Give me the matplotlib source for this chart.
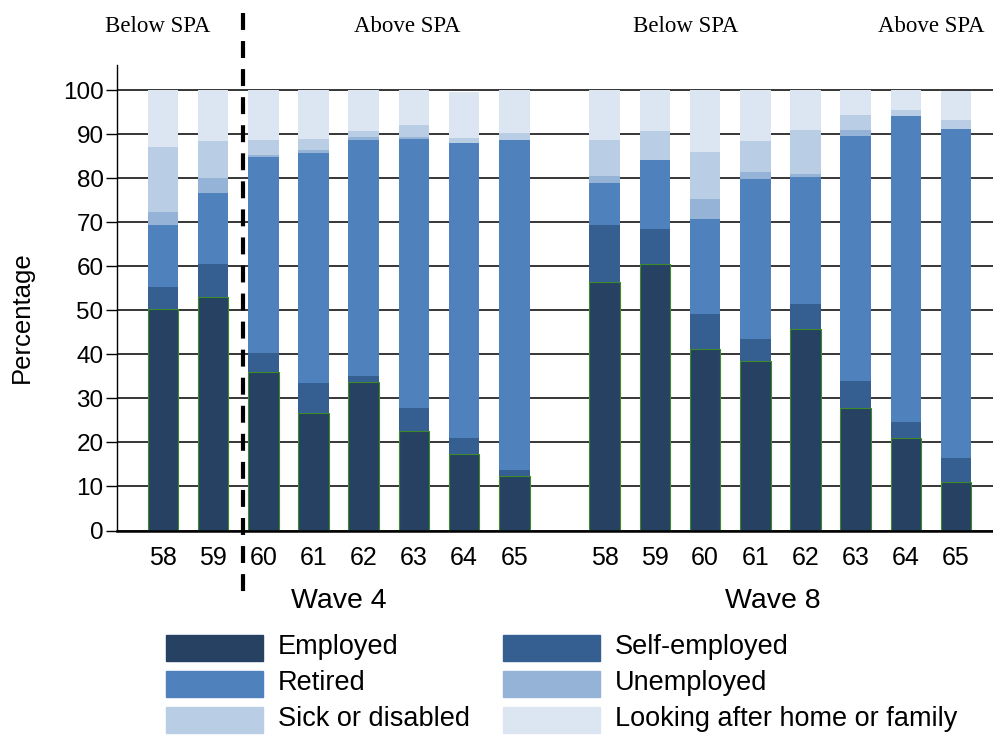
import matplotlib
matplotlib.use('Agg')
import matplotlib.pyplot as plt
from matplotlib.patches import Rectangle
from matplotlib.lines import Line2D
import matplotlib.transforms as mtransforms
import numpy as np

plt.rcParams['font.family'] = ['Liberation Sans', 'DejaVu Sans']
plt.rcParams['lines.scale_dashes'] = False

ages = ['58', '59', '60', '61', '62', '63', '64', '65']
waves = ['Wave 4', 'Wave 8']
categories = ['Employed', 'Self-employed', 'Retired', 'Unemployed',
              'Sick or disabled', 'Looking after home or family']
colors = ['#264161', '#355F91', '#4F81BD', '#95B3D7', '#B9CDE5', '#DCE6F2']

# Segment values (percent) per age, Wave 4
w4_employed = [50.2, 53.1, 35.9, 26.6, 33.7, 22.6, 17.4, 12.3]
w4_self     = [5.1, 7.4, 4.4, 6.9, 1.4, 5.2, 3.6, 1.5]
w4_retired  = [14.1, 16.2, 44.6, 52.3, 53.6, 61.1, 67.0, 74.9]
w4_unemp    = [2.9, 3.3, 0.3, 0.6, 0.6, 0.4, 0.0, 0.0]
w4_sick     = [14.8, 8.4, 3.5, 2.6, 1.4, 2.8, 1.1, 1.5]
w4_home     = [12.9, 11.6, 11.3, 11.0, 9.3, 7.9, 10.5, 9.8]

# Wave 8
w8_employed = [56.4, 60.5, 41.2, 38.4, 45.8, 27.8, 21.0, 10.9]
w8_self     = [13.0, 8.0, 7.9, 5.1, 5.6, 6.2, 3.7, 5.6]
w8_retired  = [9.6, 15.6, 21.7, 36.4, 28.9, 55.6, 69.4, 74.7]
w8_unemp    = [1.5, 0.0, 4.5, 1.5, 0.6, 1.3, 0.0, 0.0]
w8_sick     = [8.2, 6.6, 10.6, 7.0, 10.0, 3.4, 1.4, 2.0]
w8_home     = [11.3, 9.3, 14.1, 11.6, 9.1, 5.7, 4.5, 6.6]

spa_labels = ['Below SPA', 'Above SPA', 'Below SPA', 'Above SPA']

wave_data = [
    [w4_employed, w4_self, w4_retired, w4_unemp, w4_sick, w4_home],
    [w8_employed, w8_self, w8_retired, w8_unemp, w8_sick, w8_home],
]

W, H = 993, 735
fig = plt.figure(figsize=(W / 100, H / 100), dpi=100)
ax = fig.add_axes([116.7 / W, 1 - 530.5 / H, (W - 116.7) / W, (530.5 - 65) / H])

group_gap = 0.8
n = len(ages)
bar_w = 0.61
all_x = []
for g, series in enumerate(wave_data):
    x = np.arange(n) + g * (n + group_gap)
    all_x.extend(x)
    bottom = np.zeros(n)
    for k, vals in enumerate(series):
        vals = np.array(vals)
        if k == 0:
            ax.bar(x, vals, bar_w, bottom=bottom, color=colors[k],
                   edgecolor='#3c8a2a', linewidth=0.8, zorder=2)
        else:
            ax.bar(x, vals, bar_w, bottom=bottom, color=colors[k],
                   linewidth=0, zorder=2)
        bottom += vals

ax.set_xlim(-0.922, 16.537)
ax.set_ylim(0, 105.7)
ax.set_yticks(np.arange(0, 101, 10))
ax.yaxis.grid(True, color='black', linewidth=1.1, zorder=0)
ax.set_axisbelow(True)
ax.set_xticks(all_x)
ax.set_xticklabels(ages * 2, fontsize=18)
ax.tick_params(axis='x', length=0, pad=11)
ax.tick_params(axis='y', length=8, width=1, labelsize=17.5, pad=1.5)
for s in ['top', 'right']:
    ax.spines[s].set_visible(False)
ax.spines['left'].set_linewidth(1.0)
ax.spines['bottom'].set_linewidth(1.8)

# Wave labels
blend = mtransforms.blended_transform_factory(ax.transData, fig.transFigure)
wave_label_x = [3.5, 12.15]
for wx, wl in zip(wave_label_x, waves):
    fig.text(wx, 1 - 608 / H, wl, transform=blend, ha='center', va='baseline', fontsize=20.5)

# SPA labels
spa_x = [-0.1, 4.87, 10.42, 15.3]
for sx, sl in zip(spa_x, spa_labels):
    fig.text(sx, 1 - 31.7 / H, sl, transform=blend, ha='center', va='baseline',
             fontsize=16.5, family=['Liberation Serif', 'DejaVu Serif'])

# dashed SPA divider
line = Line2D([1.6, 1.6], [1 - 13 / H, 1 - 600 / H], transform=blend, color='black',
              linewidth=3, linestyle=(0, (12.2, 8.0)))
fig.add_artist(line)

fig.text(22 / W, 1 - 317 / H, 'Percentage', rotation=90, ha='center', va='center', fontsize=18.5)

# legend (manual)
col_x = [166, 503]
row_y = [648, 684, 720]
pw, ph = 97, 26
for i, (lab, c) in enumerate(zip(categories, colors)):
    col = i % 2
    row = i // 2
    x0 = col_x[col]
    yc = row_y[row]
    fig.patches.append(Rectangle((x0 / W, 1 - (yc + ph / 2) / H), pw / W, ph / H,
                                 transform=fig.transFigure, color=c, figure=fig))
    fig.text((x0 + pw + 15) / W, 1 - (yc + 6) / H, lab, ha='left', va='baseline', fontsize=19.5)

fig.savefig('out.png', dpi=100)
